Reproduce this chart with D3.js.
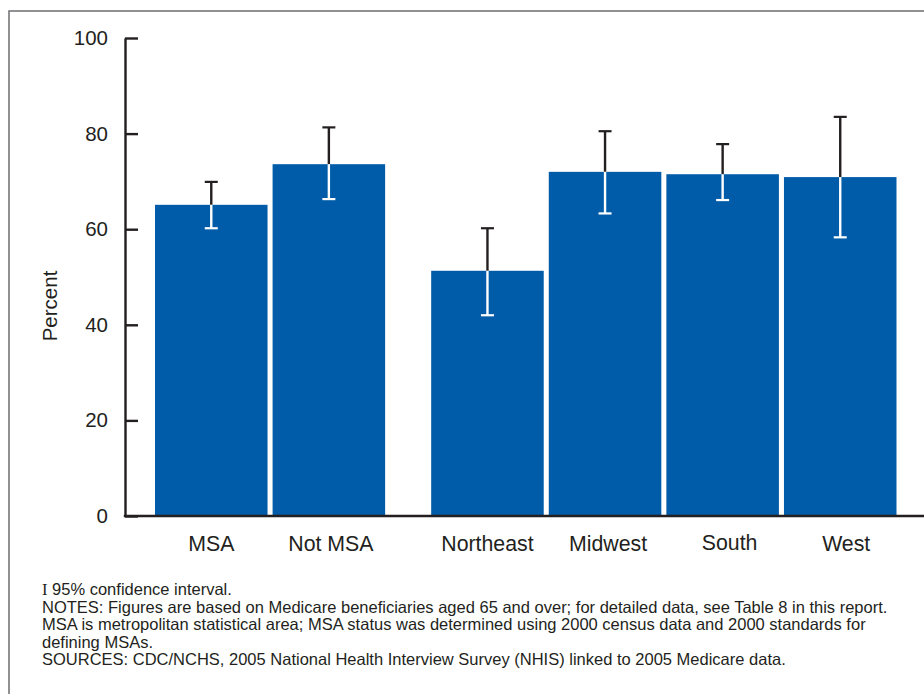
<!DOCTYPE html>
<html>
<head>
<meta charset="utf-8">
<script src="https://cdn.jsdelivr.net/npm/d3@7"></script>
<style>
  html, body { margin: 0; padding: 0; background: #fff; }
  svg { display: block; font-family: "Liberation Sans", Arial, Helvetica, sans-serif; }
</style>
</head>
<body>
<svg id="chart" width="924" height="694"></svg>
<script>
// Share of Medicare beneficiaries, by residence and region, with 95% confidence intervals
const categories = ["MSA", "Not MSA", "Northeast", "Midwest", "South", "West"];
const groupOf    = [0, 0, 1, 1, 1, 1];            // 0 = MSA status, 1 = region
const percent    = [65.1, 73.6, 51.3, 72.0, 71.5, 70.9];
const ciLower    = [60.2, 66.3, 42.0, 63.3, 66.1, 58.3];
const ciUpper    = [69.9, 81.3, 60.2, 80.5, 77.8, 83.5];
const yTicks     = [0, 20, 40, 60, 80, 100];
const footnotes  = [
  "NOTES: Figures are based on Medicare beneficiaries aged 65 and over; for detailed data, see Table 8 in this report.",
  "MSA is metropolitan statistical area; MSA status was determined using 2000 census data and 2000 standards for",
  "defining MSAs.",
  "SOURCES: CDC/NCHS, 2005 National Health Interview Survey (NHIS) linked to 2005 Medicare data."
];

const rows = categories.map((c, i) => ({
  cat: c, group: groupOf[i], value: percent[i], lo: ciLower[i], hi: ciUpper[i]
}));

const svg = d3.select("#chart");
const ink = "#231f20";
const barFill = "#005ca8";

// outer frame (open on the right and bottom)
svg.append("rect")
  .attr("x", 9).attr("y", 11)
  .attr("width", 1000).attr("height", 1000)
  .attr("fill", "none")
  .attr("stroke", "#6d6e71")
  .attr("stroke-width", 1.5);

const axisX = 125;
const y = d3.scaleLinear().domain([0, 100]).range([516, 38]);

// bands for the bars; the region group sits after an extra gap
const groupGap = 41;
const band = d3.scaleBand()
  .domain(categories)
  .range([155, 855.5])
  .paddingInner(0.043)
  .paddingOuter(0);
const xPos = d => band(d.cat) + d.group * groupGap;
const xMid = d => xPos(d) + band.bandwidth() / 2;

// bars
svg.append("g").selectAll("rect")
  .data(rows)
  .join("rect")
  .attr("x", xPos)
  .attr("y", d => y(d.value))
  .attr("width", band.bandwidth())
  .attr("height", d => y(0) - y(d.value))
  .attr("fill", barFill);

// error bars: dark above the bar top, white inside the bar
const capHalf = 6.5;
const eb = svg.append("g").selectAll("g")
  .data(rows)
  .join("g");
eb.append("line")
  .attr("x1", xMid).attr("x2", xMid)
  .attr("y1", d => y(d.hi)).attr("y2", d => y(d.value))
  .attr("stroke", ink).attr("stroke-width", 2.4);
eb.append("line")
  .attr("x1", d => xMid(d) - capHalf).attr("x2", d => xMid(d) + capHalf)
  .attr("y1", d => y(d.hi)).attr("y2", d => y(d.hi))
  .attr("stroke", ink).attr("stroke-width", 2.2);
eb.append("line")
  .attr("x1", xMid).attr("x2", xMid)
  .attr("y1", d => y(d.value)).attr("y2", d => y(d.lo))
  .attr("stroke", "#fff").attr("stroke-width", 2.4);
eb.append("line")
  .attr("x1", d => xMid(d) - capHalf).attr("x2", d => xMid(d) + capHalf)
  .attr("y1", d => y(d.lo)).attr("y2", d => y(d.lo))
  .attr("stroke", "#fff").attr("stroke-width", 2.2);

// y axis with inward ticks
const yAxis = d3.axisLeft(y)
  .tickValues(yTicks)
  .tickFormat(d3.format("d"))
  .tickSizeInner(-13)
  .tickSizeOuter(0)
  .tickPadding(17);
const gy = svg.append("g")
  .attr("transform", `translate(${axisX},0)`)
  .call(yAxis);
gy.select(".domain").attr("stroke", ink).attr("stroke-width", 2.4);
gy.selectAll(".tick line").attr("stroke", ink).attr("stroke-width", 2.4);
gy.selectAll(".tick text")
  .attr("fill", ink)
  .attr("font-size", "20.5px")
  .attr("font-family", "'Liberation Sans', Arial, sans-serif");

// x axis baseline, running to the right edge
svg.append("line")
  .attr("x1", axisX - 1.2).attr("x2", 924)
  .attr("y1", y(0)).attr("y2", y(0))
  .attr("stroke", ink).attr("stroke-width", 2.4);

// category labels (small hand-set nudges under a few bars)
const labelNudge = { "Not MSA": 2, "Midwest": 3, "South": 7, "West": 6 };
svg.append("g").selectAll("text")
  .data(rows)
  .join("text")
  .attr("x", d => xMid(d) + (labelNudge[d.cat] || 0))
  .attr("y", d => d.cat === "South" ? 550 : 551)
  .attr("text-anchor", "middle")
  .attr("font-size", "21.3px")
  .attr("fill", ink)
  .text(d => d.cat);

// y axis title
svg.append("text")
  .attr("transform", "translate(57,306) rotate(-90)")
  .attr("text-anchor", "middle")
  .attr("font-size", "20.5px")
  .attr("fill", ink)
  .text("Percent");

// footnotes
const notes = svg.append("g").attr("fill", ink).attr("font-size", "16.5px");
const first = notes.append("text").attr("x", 42).attr("y", 595);
first.append("tspan")
  .attr("font-family", "'Liberation Serif', 'Times New Roman', serif")
  .text("I");
first.append("tspan").text(" 95% confidence interval.");
footnotes.forEach((t, i) => {
  notes.append("text")
    .attr("x", 42)
    .attr("y", 612.5 + i * 17.6)
    .text(t);
});
</script>
</body>
</html>
